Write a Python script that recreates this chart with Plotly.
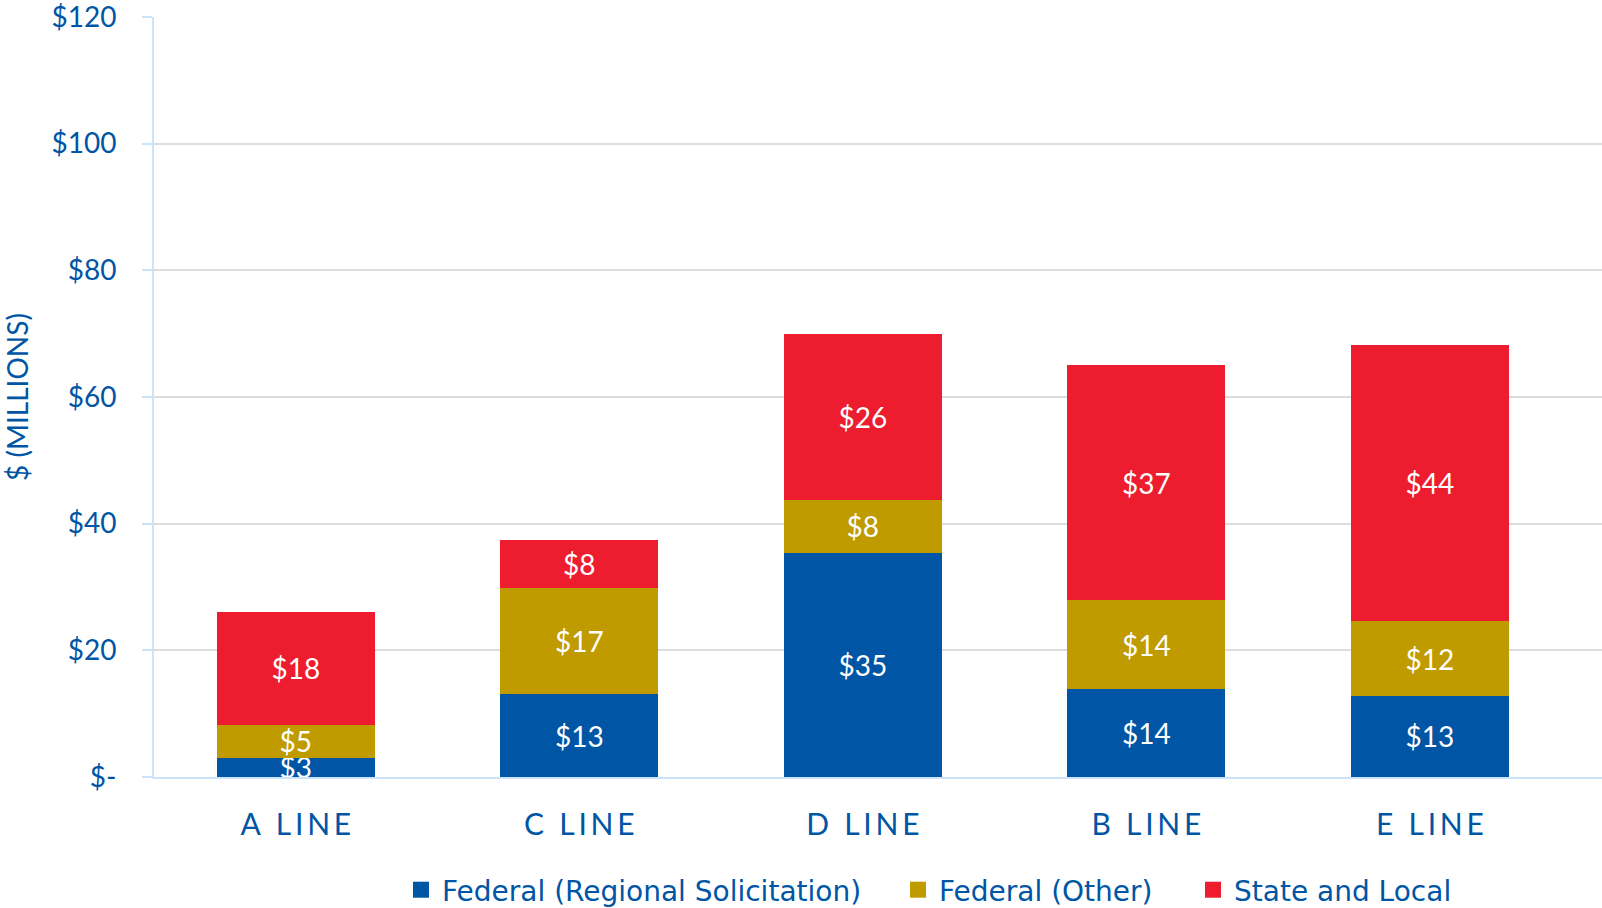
import plotly.graph_objects as go

categories = ["A LINE", "C LINE", "D LINE", "B LINE", "E LINE"]
fed_regional = [3.05, 13.06, 35.4, 13.9, 12.8]
fed_other = [5.2, 16.8, 8.4, 14.0, 11.8]
state_local = [17.8, 7.6, 26.2, 37.1, 43.6]
series_names = ["Federal (Regional Solicitation)", "Federal (Other)", "State and Local"]
series_colors = ["#0055A4", "#BF9B00", "#ED1C2E"]
y_tickvals = [0, 20, 40, 60, 80, 100, 120]
y_ticktext = ["$-", "$20", "$40", "$60", "$80", "$100", "$120"]

TXT = "#0055A4"
FONT = "Lato, 'Open Sans', sans-serif"
LEGFONT = "'DejaVu Sans', 'Open Sans', sans-serif"
W, H = 1602, 908

def spaced(s):
    return "\u2009".join(list(s))

cat_labels = [spaced(c) for c in categories]

fig = go.Figure()
for name, vals, col in zip(series_names, [fed_regional, fed_other, state_local], series_colors):
    fig.add_trace(go.Bar(
        x=categories, y=vals, name=name,
        marker=dict(color=col, line=dict(width=0)),
        width=0.557,
        text=vals, texttemplate="$%{y:.0f}",
        textposition="inside", insidetextanchor="middle",
        constraintext="none", textangle=0,
        textfont=dict(color="white", size=28, family=FONT),
        showlegend=False, hoverinfo="skip",
    ))

# legend entries (one legend per item so each can sit where the reference has it)
legend_ids = ["legend", "legend2", "legend3"]
legend_lefts = [(415 + 2) / W, (912 + 2) / W, (1207 + 2) / W]
for name, col, lid in zip(series_names, series_colors, legend_ids):
    fig.add_trace(go.Scatter(
        x=[None], y=[None], mode="markers", name=name,
        marker=dict(symbol="square", size=17, color=col),
        showlegend=True, legend=lid,
    ))

leg_common = dict(orientation="h", xref="container", yref="container",
                  xanchor="left", yanchor="middle", y=1 - 890 / H,
                  font=dict(size=28, color=TXT, family=LEGFONT),
                  bgcolor="rgba(0,0,0,0)", itemwidth=32)

fig.update_layout(
    barmode="stack",
    width=W, height=H,
    paper_bgcolor="white", plot_bgcolor="white",
    margin=dict(l=154, r=0, t=17, b=131, autoexpand=False),
    font=dict(family=FONT, color=TXT),
    showlegend=True,
    legend=dict(x=legend_lefts[0] - 17 / W, **leg_common),
    legend2=dict(x=legend_lefts[1] - 17 / W, **leg_common),
    legend3=dict(x=legend_lefts[2] - 17 / W, **leg_common),
    xaxis=dict(
        type="category", range=[-0.5, 4.607],
        tickmode="array", tickvals=categories, ticktext=cat_labels,
        tickfont=dict(size=30, color=TXT, family=FONT),
        showline=True, linecolor="#CCE4FB", linewidth=2,
        ticks="", showgrid=False, ticklabelstandoff=20,
    ),
    yaxis=dict(
        range=[0, 120], tickmode="array", tickvals=y_tickvals, ticktext=y_ticktext,
        tickfont=dict(size=28, color=TXT, family=FONT),
        showline=True, linecolor="#CCE4FB", linewidth=2,
        ticks="outside", ticklen=10, tickcolor="#CCE4FB", tickwidth=2,
        gridcolor="#DDDDDD", gridwidth=2, zeroline=False,
        ticklabelstandoff=20, ticklabeloverflow="allow",
        title=dict(text="$ (MILLIONS)", font=dict(size=28, color=TXT, family=FONT), standoff=26),
    ),
)

fig.write_html("out.html", config={"displayModeBar": False},
               post_script="document.body.style.margin='0';document.body.style.overflow='hidden';")
